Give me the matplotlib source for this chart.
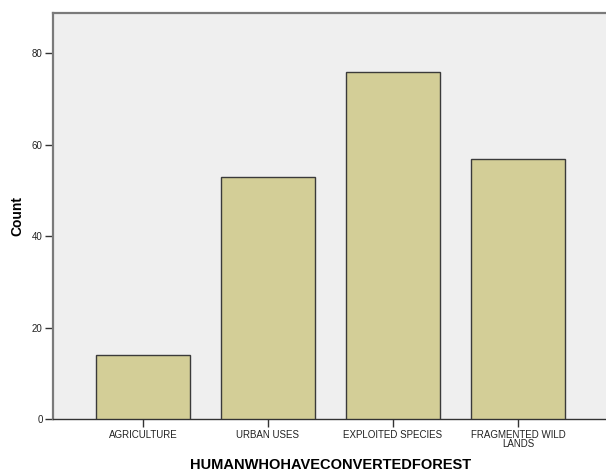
import matplotlib
matplotlib.use("Agg")
import matplotlib.pyplot as plt

categories = ["AGRICULTURE", "URBAN USES", "EXPLOITED SPECIES", "FRAGMENTED WILD\nLANDS"]
counts = [14, 53, 76, 57]
yticks = [0, 20, 40, 60, 80]

plt.rcParams['font.family'] = ['Liberation Sans', 'DejaVu Sans']

fig = plt.figure(figsize=(6.06, 4.74), dpi=100)
fig.patch.set_facecolor('white')
ax = fig.add_axes([53/606, 1 - 419.3/474, (608 - 53)/606, (419.3 - 12.7)/474])
ax.set_facecolor('#efefef')

x = list(range(len(categories)))
ax.bar(x, counts, width=0.75, color='#d3ce97', edgecolor='#3a3a3a', linewidth=1.0, zorder=3)

ax.set_xlim(-0.72, 3.72)
ax.set_ylim(0, 88.9)
ax.set_yticks(yticks)
ax.set_yticklabels([str(v) for v in yticks])
ax.set_xticks(x)
ax.set_xticklabels(categories, linespacing=0.8)

ax.tick_params(axis='y', direction='out', length=6, width=1, color='#333333',
               labelsize=7, labelcolor='#222222', pad=1.5)
ax.tick_params(axis='x', direction='out', length=6, width=1, color='#333333',
               labelsize=7, labelcolor='#222222', pad=2)

for side in ['left', 'top']:
    ax.spines[side].set_color('#7a7a7a')
    ax.spines[side].set_linewidth(1.6)
ax.spines['bottom'].set_color('#333333')
ax.spines['bottom'].set_linewidth(1.0)
ax.spines['right'].set_visible(False)

fig.text(17/606, 1 - 216/474, 'Count', rotation=90, ha='center', va='center',
         fontsize=10, fontweight='bold')
fig.text(331/606, 1 - 465/474, 'HUMANWHOHAVECONVERTEDFOREST', ha='center', va='center',
         fontsize=10.5, fontweight='bold')

fig.savefig('out.png', dpi=100)
